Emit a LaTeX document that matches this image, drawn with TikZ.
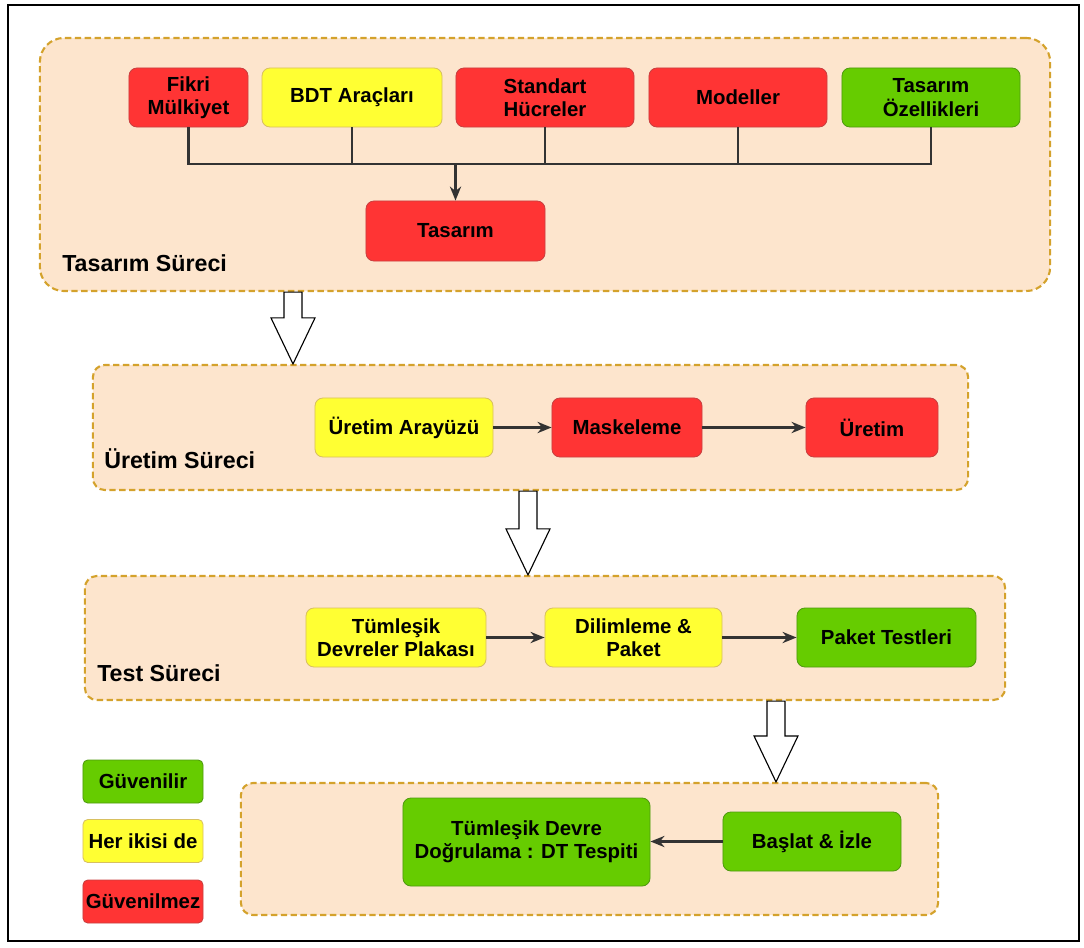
\documentclass[tikz,border=0pt]{standalone}
\usepackage{fontspec}
\setmainfont{Liberation Sans}
\usetikzlibrary{arrows.meta,calc}
\definecolor{stagefill}{HTML}{FDE5CD}
\definecolor{stageline}{HTML}{D4A22C}
\definecolor{redfill}{HTML}{FF3434}
\definecolor{redline}{HTML}{C84040}
\definecolor{yellowfill}{HTML}{FFFF33}
\definecolor{yellowline}{HTML}{D8C060}
\definecolor{greenfill}{HTML}{66CC00}
\definecolor{greenline}{HTML}{4F9A10}
\definecolor{wire}{HTML}{333333}

% draws a hollow block arrow from point #1 down to tip #2
\newcommand\hollowarrow[2]{%
  \draw[hollow] ($(#1)+(-9,0)$) -- ($(#2)+(-9,-46)$) -- ($(#2)+(-22,-46)$) -- (#2)
    -- ($(#2)+(22,-46)$) -- ($(#2)+(9,-46)$) -- ($(#1)+(9,0)$) -- cycle;}

\begin{document}
\begin{tikzpicture}[x=0.025cm,y=-0.025cm,
  stage/.style={draw=stageline, fill=stagefill, line width=1.5pt,
    dash pattern=on 4.5pt off 2.5pt, rounded corners=0.3cm, inner sep=0},
  item/.style={rounded corners=0.2cm, inner sep=0, align=center,
    font=\bfseries\fontsize{14.5}{16.5}\selectfont, line width=0.6pt},
  redbox/.style={item, fill=redfill, draw=redline},
  yellowbox/.style={item, fill=yellowfill, draw=yellowline},
  greenbox/.style={item, fill=greenfill, draw=greenline},
  flow/.style={draw=wire, line width=1.5pt, -{Stealth[length=10pt,width=8pt]}},
  bus/.style={draw=wire, line width=1.5pt},
  hollow/.style={draw=black, fill=white, line width=0.8pt},
  stagelabel/.style={anchor=west, inner sep=0, font=\bfseries\fontsize{16.5}{19}\selectfont}
]
\useasboundingbox (0,0) rectangle (1084,947);
\draw[line width=1pt] (8,5) rectangle (1079,941);

% process stages
\node[stage, rounded corners=0.6cm, minimum width=25.25cm, minimum height=6.325cm] (design) at (545,164.5) {};
\node[stage, minimum width=21.875cm, minimum height=3.125cm] (fab) at (530.5,427.5) {};
\node[stage, minimum width=23cm, minimum height=3.1cm] (test) at (545,638) {};
\node[stage, minimum width=17.425cm, minimum height=3.3cm] (verify) at (589.5,849) {};

\node[stagelabel] (designlbl) at (62,263) {Tasarım Süreci};
\node[stagelabel] (fablbl) at (104,459) {Üretim Süreci};
\node[stagelabel] (testlbl) at (97,673) {Test Süreci};

% design stage
\node[redbox, minimum width=2.975cm, minimum height=1.475cm] (ip) at (188.5,97.5) {Fikri\\Mülkiyet};
\node[yellowbox, minimum width=4.5cm, minimum height=1.475cm] (tools) at (352,97.5) {BDT Araçları};
\node[redbox, minimum width=4.45cm, minimum height=1.475cm] (cells) at (545,97.5) {Standart\\Hücreler};
\node[redbox, minimum width=4.45cm, minimum height=1.475cm] (models) at (738,97.5) {Modeller};
\node[greenbox, minimum width=4.45cm, minimum height=1.475cm] (specs) at (931,97.5) {Tasarım\\Özellikleri};
\node[redbox, minimum width=4.475cm, minimum height=1.5cm] (des) at (455.5,231) {Tasarım};

\coordinate (busin) at (455.5,164);
\draw[bus] (ip.south) -- (ip.south |- busin) -- (specs.south |- busin) -- (specs.south);
\draw[bus] (tools.south) -- (tools.south |- busin);
\draw[bus] (cells.south) -- (cells.south |- busin);
\draw[bus] (models.south) -- (models.south |- busin);
\draw[flow] (busin) -- (des.north);

% fabrication stage
\node[yellowbox, minimum width=4.45cm, minimum height=1.475cm] (iface) at (404,427.5) {Üretim Arayüzü};
\node[redbox, minimum width=3.75cm, minimum height=1.475cm] (mask) at (627,427.5) {Maskeleme};
\node[redbox, minimum width=3.3cm, minimum height=1.475cm] (prod) at (872,427.5) {Üretim};
\draw[flow] (iface) -- (mask);
\draw[flow] (mask) -- (prod);

% test stage
\node[yellowbox, minimum width=4.5cm, minimum height=1.475cm] (wafer) at (396,637.5) {Tümleşik\\Devreler Plakası};
\node[yellowbox, minimum width=4.425cm, minimum height=1.475cm] (dice) at (633.5,637.5) {Dilimleme \&\\Paket};
\node[greenbox, minimum width=4.475cm, minimum height=1.475cm] (pkt) at (886.5,637.5) {Paket Testleri};
\draw[flow] (wafer) -- (dice);
\draw[flow] (dice) -- (pkt);

% verification stage
\node[greenbox, minimum width=6.175cm, minimum height=2.2cm] (check) at (526.5,842) {Tümleşik Devre\\Doğrulama : DT Tespiti};
\node[greenbox, minimum width=4.45cm, minimum height=1.475cm] (mon) at (812,841.5) {Başlat \& İzle};
\draw[flow] (mon.west) -- (mon.west -| check.east);

% legend
\node[greenbox, rounded corners=0.12cm, minimum width=3cm, minimum height=1.075cm] (lg) at (143,781.5) {Güvenilir};
\node[yellowbox, rounded corners=0.12cm, minimum width=3cm, minimum height=1.075cm] (ly) at (143,841) {Her ikisi de};
\node[redbox, rounded corners=0.12cm, minimum width=3cm, minimum height=1.075cm] (lr) at (143,901.5) {Güvenilmez};

% block arrows between stages
\coordinate (x1) at (293,0);
\coordinate (x2) at (528,0);
\coordinate (x3) at (776,0);
\coordinate (a1s) at (x1 |- design.south);
\coordinate (a1t) at (x1 |- fab.north);
\coordinate (a2s) at (x2 |- fab.south);
\coordinate (a2t) at (x2 |- test.north);
\coordinate (a3s) at (x3 |- test.south);
\coordinate (a3t) at (x3 |- verify.north);
\hollowarrow{a1s}{a1t}
\hollowarrow{a2s}{a2t}
\hollowarrow{a3s}{a3t}
\end{tikzpicture}
\end{document}
